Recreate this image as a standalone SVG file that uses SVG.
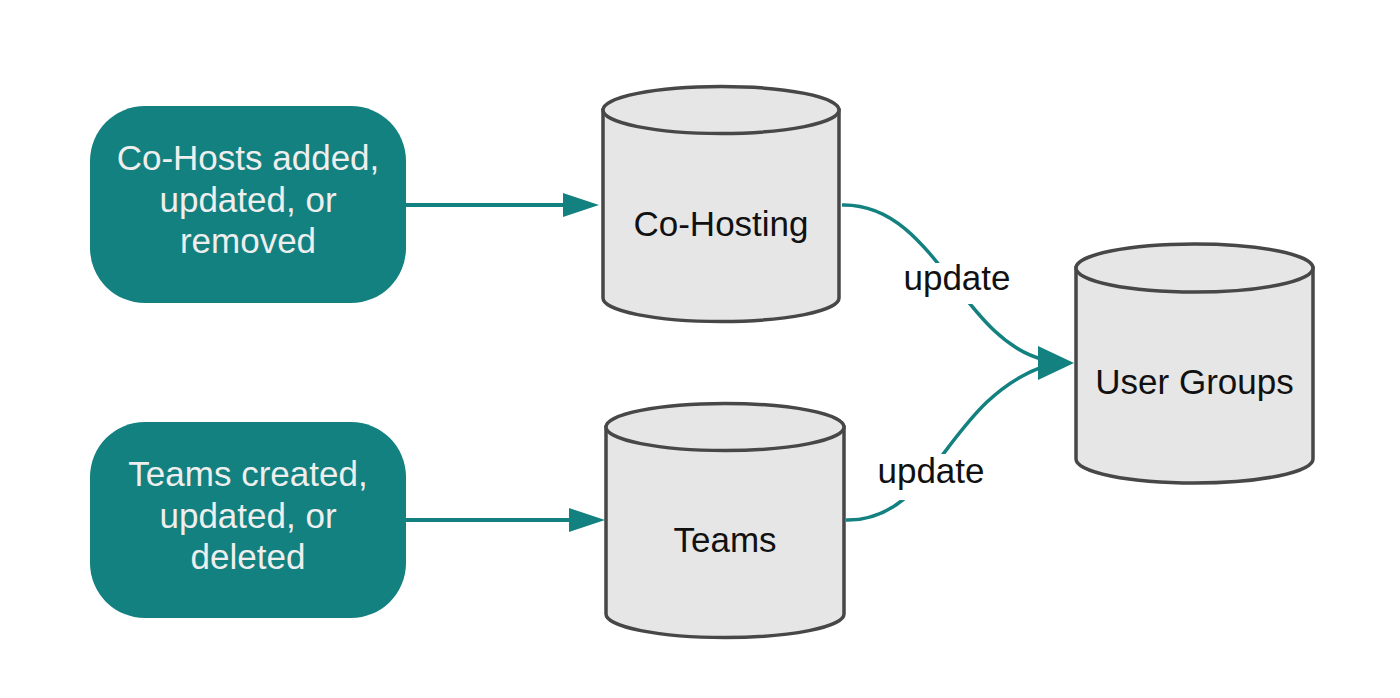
<svg xmlns="http://www.w3.org/2000/svg" width="1400" height="698" viewBox="0 0 1400 698">
<style>
.box{fill:#12817f}
.btxt{font-family:"Liberation Sans",Arial,sans-serif;font-size:35px;fill:#eeeeee;text-anchor:middle}
.cyl{fill:#e6e6e6;stroke:#474747;stroke-width:3.5}
.ctxt{font-family:"Liberation Sans",Arial,sans-serif;font-size:35px;fill:#111111;text-anchor:middle}
.conn{fill:none;stroke:#12817f;stroke-width:4}
.curve{fill:none;stroke:#12817f;stroke-width:3.5}
.lbl{font-family:"Liberation Sans",Arial,sans-serif;font-size:35px;fill:#111111;text-anchor:middle}
</style>
<defs>
<marker id="arrow" markerUnits="userSpaceOnUse" markerWidth="36" markerHeight="24" viewBox="0 0 36 24" refX="7" refY="12" orient="auto">
<path d="M0,0 L36,12 L0,24 z" fill="#12817f"/>
</marker>
</defs>
<rect width="1400" height="698" fill="#ffffff"/>

<g id="connectors">
<line class="conn" x1="406" y1="205" x2="570" y2="205" marker-end="url(#arrow)"/>
<line class="conn" x1="406" y1="520" x2="576" y2="520" marker-end="url(#arrow)"/>
<path class="curve" d="M842,205 C935,203 960,340 1045,360"/>
<path class="curve" d="M846,520 C935,522 945,400 1045,366"/>
<polygon points="1038,346 1038,380 1074,363" fill="#12817f"/>
<rect x="902" y="263" width="110" height="41" fill="#ffffff"/>
<text class="lbl" x="957" y="290">update</text>
<rect x="876" y="454" width="110" height="46" fill="#ffffff"/>
<text class="lbl" x="931" y="483">update</text>
</g>

<g id="cohosts-event">
<rect class="box" x="90" y="106" width="316" height="197" rx="55" ry="55"/>
<text class="btxt" x="248" y="170">Co-Hosts added,</text>
<text class="btxt" x="248" y="211.5">updated, or</text>
<text class="btxt" x="248" y="253">removed</text>
</g>

<g id="teams-event">
<rect class="box" x="90" y="422" width="316" height="196" rx="55" ry="55"/>
<text class="btxt" x="248" y="486">Teams created,</text>
<text class="btxt" x="248" y="527.5">updated, or</text>
<text class="btxt" x="248" y="569">deleted</text>
</g>

<g id="cohosting-db">
<path class="cyl" d="M603,110 L603,298 A118,23.5 0 0 0 839,298 L839,110 Z"/>
<ellipse class="cyl" cx="721" cy="110" rx="118" ry="23.5"/>
<text class="ctxt" x="721" y="236">Co-Hosting</text>
</g>

<g id="teams-db">
<path class="cyl" d="M606,427 L606,614 A119,23.5 0 0 0 844,614 L844,427 Z"/>
<ellipse class="cyl" cx="725" cy="427" rx="119" ry="23.5"/>
<text class="ctxt" x="725" y="552">Teams</text>
</g>

<g id="usergroups-db">
<path class="cyl" d="M1076,268 L1076,459 A118.5,24 0 0 0 1313,459 L1313,268 Z"/>
<ellipse class="cyl" cx="1194.5" cy="268" rx="118.5" ry="24"/>
<text class="ctxt" x="1194.5" y="394">User Groups</text>
</g>
</svg>
